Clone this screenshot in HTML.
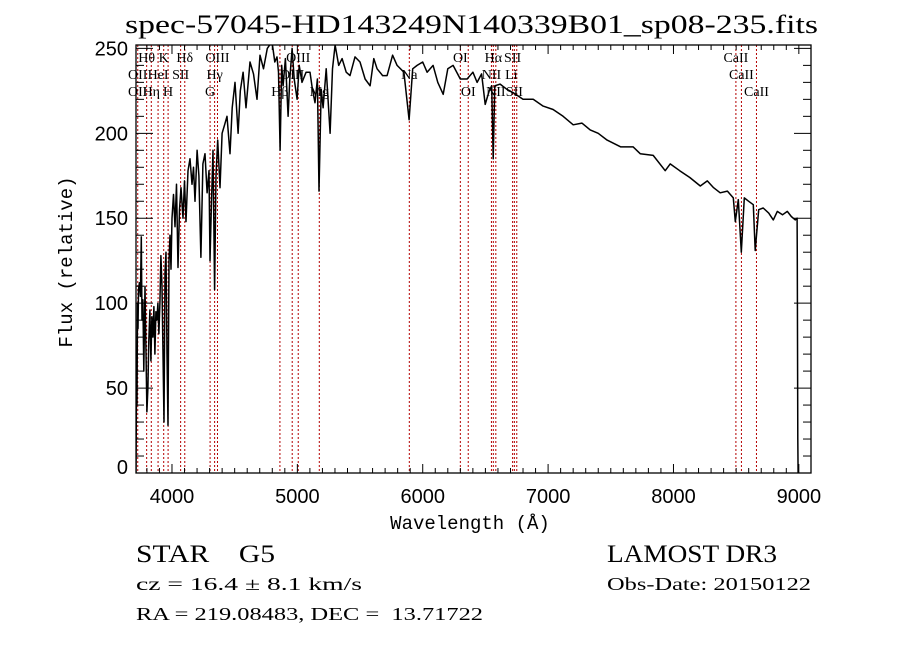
<!DOCTYPE html>
<html><head><meta charset="utf-8"><style>
html,body{margin:0;padding:0;background:#fff;}
svg{display:block;}
</style></head><body>
<svg id="chart" width="900" height="649" viewBox="0 0 900 649" xmlns="http://www.w3.org/2000/svg">
<rect x="0" y="0" width="900" height="649" fill="#fff"/>
<text x="125" y="33" font-family="Liberation Serif, serif" font-size="26" textLength="693" lengthAdjust="spacingAndGlyphs">spec-57045-HD143249N140339B01_sp08-235.fits</text>
<defs><clipPath id="plotclip"><rect x="136" y="45" width="675" height="428"/></clipPath></defs>
<g id="lines" clip-path="url(#plotclip)"></g>
<g id="series" clip-path="url(#plotclip)"></g>
<g id="labels"></g>
<rect x="136" y="45" width="675" height="428" fill="none" stroke="#000" stroke-width="1.3"/>
<g id="axes"></g>
<text x="470" y="529" text-anchor="middle" font-family="Liberation Mono, monospace" font-size="19">Wavelength (Å)</text>
<text transform="translate(72,262) rotate(-90)" text-anchor="middle" font-family="Liberation Mono, monospace" font-size="19">Flux (relative)</text>
<text x="136" y="562" xml:space="preserve" font-family="Liberation Serif, serif" font-size="25" textLength="139" lengthAdjust="spacingAndGlyphs">STAR    G5</text>
<text x="607" y="562" font-family="Liberation Serif, serif" font-size="25" textLength="170" lengthAdjust="spacingAndGlyphs">LAMOST DR3</text>
<text x="136" y="590" font-family="Liberation Serif, serif" font-size="18" textLength="226" lengthAdjust="spacingAndGlyphs">cz = 16.4 ± 8.1 km/s</text>
<text x="607" y="590" font-family="Liberation Serif, serif" font-size="18" textLength="204" lengthAdjust="spacingAndGlyphs">Obs-Date: 20150122</text>
<text x="136" y="620" font-family="Liberation Serif, serif" font-size="18" textLength="347" lengthAdjust="spacingAndGlyphs" xml:space="preserve">RA = 219.08483, DEC =  13.71722</text>
</svg>
<script>
const wavelengths = [
3713,3718,3721,3725,3729,3733,3740,3748,3755,3761,
3768,3775,3785,3792,3800,3808,3815,3824,3832,3840,
3848,3856,3864,3872,3880,3888,3896,3904,3912,3920,
3928,3936,3944,3952,3960,3968,3976,3984,3992,4000,
4012,4024,4036,4048,4060,4072,4088,4100,4112,4128,
4144,4160,4172,4184,4200,4215,4231,4247,4263,4280,
4295,4303,4315,4327,4340,4351,4365,4383,4400,4420,
4439,4463,4480,4503,4527,4545,4567,4590,4622,4650,
4678,4702,4730,4760,4798,4820,4838,4850,4862,4875,
4886,4905,4926,4940,4958,4975,4998,5015,5037,5070,
5101,5120,5141,5160,5173,5190,5205,5230,5261,5280,
5301,5330,5357,5390,5420,5460,5500,5540,5580,5610,
5636,5680,5716,5760,5796,5850,5891,5920,5955,6000,
6035,6083,6120,6163,6200,6242,6300,6354,6400,6434,
6470,6498,6530,6550,6562,6575,6617,6670,6721,6800,
6881,6960,7040,7120,7200,7270,7336,7400,7471,7580,
7679,7735,7838,7934,7974,8050,8130,8214,8270,8320,
8373,8430,8477,8493,8517,8541,8565,8600,8637,8652,
8680,8716,8760,8796,8828,8870,8908,8940,8972,8986,
8988,8990,8992,8994];
const fluxes = [
0,60,40,100,85,108,112,104,139,90,
102,60,110,75,36,50,78,96,66,92,
80,98,70,95,90,100,82,100,128,110,
70,30,118,130,70,28,125,140,120,150,
164,145,170,121,155,168,150,172,148,178,
185,170,180,160,190,175,127,182,188,165,
178,125,160,190,108,175,196,168,200,205,
210,188,215,230,200,225,236,215,242,235,
220,246,238,250,254,242,245,236,190,240,
228,244,210,232,250,232,220,240,230,236,
236,226,218,232,166,226,215,238,200,238,
252,240,244,236,234,245,242,232,228,244,
238,234,234,246,240,236,208,238,240,242,
236,240,230,223,238,240,232,232,236,230,
235,217,225,228,185,228,229,226,224,220,
220,216,214,210,205,206,202,200,196,192,
192,188,187,178,182,178,174,169,172,168,
165,166,162,148,161,130,162,160,158,131,
155,156,153,149,154,152,154,151,149,150,
125,60,20,0];
const lineWaves = [3727,3798,3835,3889,3934,3969,4069,4102,4304,4340,4363,4861,4959,5007,5175,5893,6300,6363,6548,6563,6583,6717,6731,6750,8498,8542,8662];
const labelTexts = ["Hθ","K","Hδ","OIII","OII","HeI","SII","Hγ","OII","Hη","H","G","Hβ","OIII","Mg","OIII","Na","OI","OI","Hα","SII","NII","Li","NII","SII","CaII","CaII","CaII"];
const labelWaves = [3798,3934,4102,4363,3727,3889,4069,4340,3727,3835,3969,4304,4861,5007,5175,4959,5893,6300,6363,6563,6717,6548,6707,6583,6731,8498,8542,8662];
const labelRows = [0,0,0,0,1,1,1,1,2,2,2,2,2,0,2,1,1,0,2,0,0,1,1,2,2,0,1,2];
const xTicks = [4000,5000,6000,7000,8000,9000];
const yTicks = [0,50,100,150,200,250];

const NS='http://www.w3.org/2000/svg';
const X0=136,X1=811,Y0=473,Y1=45;
const xmin=3713,xmax=9097,ymin=0,ymax=252;
function xs(w){return X0+(w-xmin)/(xmax-xmin)*(X1-X0);}
function ys(f){return Y0-(f-ymin)/(ymax-ymin)*(Y0-Y1);}
function mk(tag,attrs){const e=document.createElementNS(NS,tag);for(const k in attrs)e.setAttribute(k,attrs[k]);return e;}

const gl=document.getElementById('lines');
lineWaves.forEach(w=>{
  const l=mk('line',{x1:xs(w),x2:xs(w),y1:Y1,y2:Y0,stroke:'#b40000','stroke-width':1,'stroke-dasharray':'2,2'});
  
  
  gl.appendChild(l);
});

const gs=document.getElementById('series');
const n=Math.min(wavelengths.length,fluxes.length);
const ptsArr=[];
for(let i=0;i<n;i++){ptsArr.push(xs(wavelengths[i]).toFixed(1)+','+ys(fluxes[i]).toFixed(1));}
const pl=mk('polyline',{points:ptsArr.join(' '),fill:'none',stroke:'#000','stroke-width':1.5,'stroke-linejoin':'round'});


gs.appendChild(pl);

const glb=document.getElementById('labels');
const rowY=[62,79,96];
labelTexts.forEach((t,i)=>{
  const tx=mk('text',{x:xs(labelWaves[i]),y:rowY[labelRows[i]],'text-anchor':'middle','font-family':'Liberation Serif, serif','font-size':14});
  tx.textContent=t;
  
  
  glb.appendChild(tx);
});

const ga=document.getElementById('axes');
for(let w=3800;w<=9000;w+=100){
  const major=(w%1000===0);
  const len=major?9:5;
  const x=xs(w);
  ga.appendChild(mk('line',{x1:x,x2:x,y1:Y0,y2:Y0-len,stroke:'#000','stroke-width':1}));
  ga.appendChild(mk('line',{x1:x,x2:x,y1:Y1,y2:Y1+len,stroke:'#000','stroke-width':1}));
}
xTicks.forEach(w=>{
  const t=mk('text',{x:xs(w),y:503,'text-anchor':'middle','font-family':'Liberation Sans, sans-serif','font-size':20});
  t.textContent=w;
  
  
  ga.appendChild(t);
});
for(let f=0;f<=250;f+=10){
  const major=(f%50===0);
  const len=major?17:8;
  const y=ys(f);
  ga.appendChild(mk('line',{x1:X0,x2:X0+len,y1:y,y2:y,stroke:'#000','stroke-width':1}));
  ga.appendChild(mk('line',{x1:X1,x2:X1-len,y1:y,y2:y,stroke:'#000','stroke-width':1}));
}
yTicks.forEach(f=>{
  const t=mk('text',{x:128,y:Math.min(ys(f)+7,ys(0)+1),'text-anchor':'end','font-family':'Liberation Sans, sans-serif','font-size':20});
  t.textContent=f;
  
  
  ga.appendChild(t);
});
</script>
</body></html>
